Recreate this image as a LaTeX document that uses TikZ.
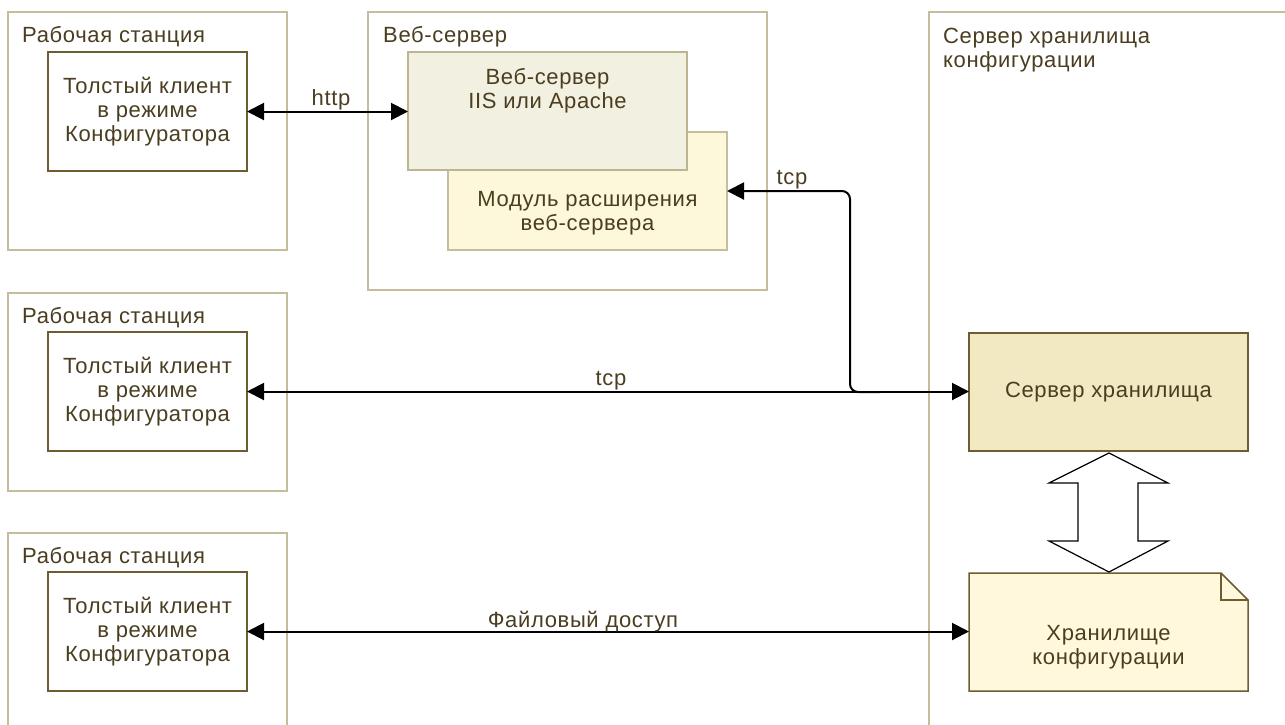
\documentclass[tikz,border=0pt]{standalone}
\usepackage{fontspec}
\setmainfont{Liberation Sans}[LetterSpace=3]
\usetikzlibrary{arrows.meta}
\definecolor{framec}{HTML}{C5BD9B}
\definecolor{darkb}{HTML}{6E5D30}
\definecolor{txt}{HTML}{4A3D20}
\definecolor{iisfill}{HTML}{F2F0E0}
\definecolor{iisline}{HTML}{BDB591}
\definecolor{modfill}{HTML}{FDF8DA}
\definecolor{srvfill}{HTML}{F2E9C3}
\definecolor{notefill}{HTML}{FFF8DC}
\tikzset{
  frame/.style={draw=framec, line width=1.5pt, fill=white},
  boxbase/.style={anchor=north west, inner sep=0pt, outer sep=0pt, align=center, text=txt},
  client/.style={boxbase, draw=darkb, line width=2pt, fill=white, minimum width=199pt, minimum height=119pt},
  title/.style={anchor=base west, inner sep=0pt, text=txt, align=left},
  lbl/.style={anchor=base, inner sep=0pt, text=txt},
  conn/.style={line width=2pt, draw=black, {Triangle[length=17pt,width=17pt]}-{Triangle[length=17pt,width=17pt]}},
  conn1/.style={line width=2pt, draw=black, -{Triangle[length=17pt,width=17pt]}},
}
\begin{document}
\begin{tikzpicture}[x=1pt,y=-1pt, font=\fontsize{22}{24}\selectfont]
\useasboundingbox (0,0) rectangle (1285,724);
\clip (0,0) rectangle (1285,724);
\fill[white] (0,0) rectangle (1285,724);

% outer frames
\draw[frame] (8,12) rectangle (287,250);
\draw[frame] (8,293) rectangle (287,491);
\draw[frame] (8,533) rectangle (287,740);
\draw[frame] (368,12) rectangle (767,290);
\draw[frame] (929,12) rectangle (1300,740);

% titles
\node[title] (t1) at (22,42) {Рабочая станция};
\node[title] (t2) at (22,323) {Рабочая станция};
\node[title] (t3) at (22,563) {Рабочая станция};
\node[title] (t4) at (383,42) {Веб-сервер};
\node[title] (t5) at (943,67) {Сервер хранилища\\конфигурации};

% clients
\node[client] (c1) at (48,52) {Толстый клиент\\в режиме\\Конфигуратора};
\node[client] (c2) at (48,332) {Толстый клиент\\в режиме\\Конфигуратора};
\node[client] (c3) at (48,572) {Толстый клиент\\в режиме\\Конфигуратора};

% web server parts
\node[boxbase, draw=framec, line width=1.5pt, fill=modfill, minimum width=279pt, minimum height=118pt] (mod) at (448,132) {};
\node[boxbase, draw=iisline, line width=1.5pt, fill=iisfill, minimum width=279pt, minimum height=118pt] (iis) at (408,52) {};
\node[lbl, align=center] (iist) at (547.5,108) {Веб-сервер\\IIS или Apache};
\node[lbl, align=center] (modt) at (587.5,230) {Модуль расширения\\веб-сервера};

% storage server
\node[boxbase, draw=darkb, line width=1.5pt, fill=srvfill, minimum width=279pt, minimum height=118pt] (srv) at (969,333) {Сервер хранилища};

% note
\node[boxbase, minimum width=279pt, minimum height=118pt] (note) at (969,573) {};
\draw[fill=notefill, draw=darkb, line width=1.5pt, line join=miter]
  (note.north west) -- ([xshift=-27pt]note.north east) -- ([yshift=-27pt]note.north east)
  -- (note.south east) -- (note.south west) -- cycle;
\draw[draw=darkb, line width=1.5pt] ([xshift=-27pt]note.north east) -- ([xshift=-27pt,yshift=-27pt]note.north east) -- ([yshift=-27pt]note.north east);
\node[lbl, align=center] (notet) at (1108.5,664) {Хранилище\\конфигурации};

% double block arrow
\draw[line width=1.2pt, fill=white, line join=miter]
  (1109,453) -- (1168,483) -- (1138,483) -- (1138,541) -- (1168,541) -- (1109,572)
  -- (1049,541) -- (1078,541) -- (1078,483) -- (1049,483) -- cycle;

% connectors
\draw[conn] (c1.east) -- (c1.east -| iis.west);
\draw[conn] (c2.east) -- (c2.east -| srv.west);
\draw[conn] (c3.east) -- (c3.east -| note.west);
\coordinate (jb) at (880,392);
\coordinate (jc) at (850,392);
\coordinate (jt) at (850,191);
\draw[conn1, rounded corners=8pt] (jb) -- (jc) -- (jt) -- (mod.east);

% labels
\node[lbl] (lhttp) at (331,105) {http};
\node[lbl] (ltcp1) at (792,184) {tcp};
\node[lbl] (ltcp2) at (611,385) {tcp};
\node[lbl] (lfile) at (583,627) {Файловый доступ};
\end{tikzpicture}
\end{document}
